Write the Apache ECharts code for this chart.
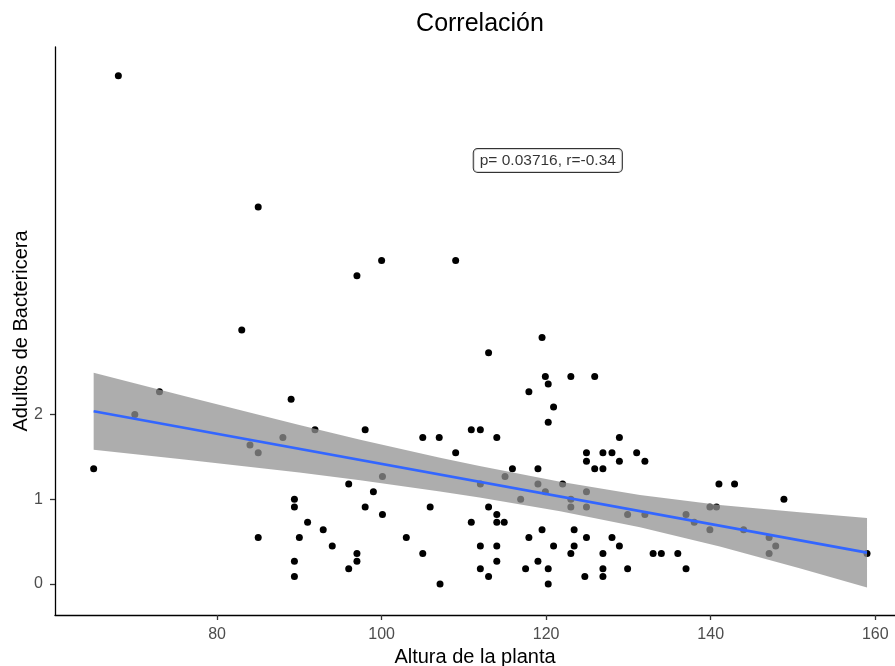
<!DOCTYPE html>
<html>
<head>
<meta charset="utf-8">
<script src="https://cdn.jsdelivr.net/npm/echarts@6/dist/echarts.min.js"></script>
<style>
  html, body { margin: 0; padding: 0; background: #fff; }
  #chart { width: 895px; height: 666px; }
</style>
</head>
<body>
<div id="chart"></div>
<script>
// Plant height (x) and Bactericera adults (y), one entry per plant
const alturaPlanta = [
  68, 85, 97, 100, 109, 83, 119.5, 113, 119.9, 120.25,
  123, 125.9, 117.9, 120.9, 120.25, 73, 70, 89, 65, 84,
  85, 88, 89.4, 89.4, 85, 90, 89.4, 89.4, 91.9, 98,
  105, 107, 110.9, 112, 114, 109, 115.9, 119, 122, 124.9,
  124.9, 125.9, 100.1, 112, 115, 119, 119.9, 116.9, 123, 123,
  124.9, 124.9, 96, 99, 98, 100.1, 91, 92.9, 94, 96,
  97, 97, 103, 105, 105.9, 107.1, 110.9, 113, 114, 114,
  114.9, 112, 114, 112, 113, 114, 117.9, 119.5, 117.5, 119,
  120.25, 120.25, 120.9, 123.4, 123.4, 123, 124.9, 124.7, 128.9, 126.9,
  128, 128.9, 131, 132, 126.9, 129.9, 132, 137, 138, 126.9,
  128, 128.9, 126.9, 126.9, 129.9, 133, 134, 136, 137, 141,
  142.9, 148.9, 139.9, 140.7, 139.9, 144, 147.1, 147.9, 147.1, 159
];
const adultos = [
  6.0, 4.45, 3.64, 3.82, 3.82, 3.0, 2.91, 2.73, 2.45, 2.36,
  2.45, 2.45, 2.27, 2.09, 1.91, 2.27, 2.0, 2.18, 1.36, 1.64,
  1.55, 1.73, 1.0, 0.91, 0.55, 0.55, 0.27, 0.09, 1.82, 1.82,
  1.73, 1.73, 1.82, 1.82, 1.73, 1.55, 1.36, 1.36, 1.18, 1.55,
  1.45, 1.36, 1.27, 1.18, 1.27, 1.18, 1.09, 1.0, 1.0, 0.91,
  1.09, 0.91, 1.18, 1.09, 0.91, 0.82, 0.73, 0.64, 0.45, 0.18,
  0.36, 0.27, 0.55, 0.36, 0.91, 0.0, 0.73, 0.91, 0.82, 0.73,
  0.73, 0.45, 0.45, 0.18, 0.09, 0.27, 0.55, 0.64, 0.18, 0.27,
  0.18, 0.0, 0.45, 0.64, 0.45, 0.36, 0.55, 0.09, 1.73, 1.55,
  1.55, 1.45, 1.55, 1.45, 1.36, 0.82, 0.82, 0.82, 0.73, 0.36,
  0.55, 0.45, 0.18, 0.09, 0.18, 0.36, 0.36, 0.36, 0.18, 1.18,
  1.18, 1.0, 0.91, 0.91, 0.64, 0.64, 0.55, 0.45, 0.36, 0.36
];

// Fitted linear trend (end points) and its confidence band
const ajusteX = [65, 159];
const ajusteY = [2.04, 0.37];
const bandaX = [65, 76, 90, 97.4, 107.1, 111.9, 121.7, 131.4, 141.1, 150.8, 159];
const bandaSup = [2.495, 2.22, 1.876, 1.704, 1.492, 1.392, 1.208, 1.05, 0.933, 0.846, 0.78];
const bandaInf = [1.585, 1.47, 1.316, 1.224, 1.092, 1.022, 0.858, 0.67, 0.443, 0.186, -0.04];

// Axis ticks
const ticksX = [80, 100, 120, 140, 160];
const ticksY = [0, 1, 2];

// Correlation annotation
const anotacionTexto = 'p= 0.03716, r=-0.34';
const anotacionPos = [120.2, 5.0];

const FONT = 'Liberation Sans, Arial, sans-serif';

const chart = echarts.init(document.getElementById('chart'), null, { renderer: 'canvas' });

chart.setOption({
  animation: false,
  backgroundColor: '#ffffff',
  title: {
    text: 'Correlación',
    left: 475,
    top: 7,
    textAlign: 'center',
    textStyle: { fontFamily: FONT, fontSize: 25, fontWeight: 'normal', color: '#000' }
  },
  grid: { left: 55, right: 0, top: 47, bottom: 51, containLabel: false, outerBoundsMode: 'none' },
  xAxis: {
    type: 'value',
    min: 60.3,
    max: 162.4,
    name: 'Altura de la planta',
    nameLocation: 'middle',
    nameGap: 32,
    nameMoveOverlap: false,
    nameTextStyle: { fontFamily: FONT, fontSize: 20, color: '#000' },
    axisLine: { show: true, onZero: false, lineStyle: { color: '#000', width: 1.3 } },
    axisTick: { show: true, customValues: ticksX, length: 5, lineStyle: { color: '#333', width: 1.3 } },
    axisLabel: { customValues: ticksX, margin: 12, fontFamily: FONT, fontSize: 16, color: '#4d4d4d' },
    splitLine: { show: false }
  },
  yAxis: {
    type: 'value',
    min: -0.366,
    max: 6.34,
    name: 'Adultos de Bactericera',
    nameLocation: 'middle',
    nameGap: 23.5,
    nameMoveOverlap: false,
    nameTextStyle: { fontFamily: FONT, fontSize: 20, color: '#000' },
    axisLine: { show: true, onZero: false, lineStyle: { color: '#000', width: 1.3 } },
    axisTick: { show: true, customValues: ticksY, length: 5, lineStyle: { color: '#333', width: 1.3 } },
    axisLabel: { customValues: ticksY, margin: 12, fontFamily: FONT, fontSize: 16, color: '#4d4d4d' },
    splitLine: { show: false }
  },
  series: [
    {
      name: 'plantas',
      type: 'scatter',
      symbol: 'circle',
      symbolSize: 7,
      itemStyle: { color: '#000', opacity: 1 },
      data: alturaPlanta.map((x, i) => [x, adultos[i]]),
      z: 2
    },
    {
      name: 'intervalo',
      type: 'custom',
      silent: true,
      z: 3,
      data: bandaX.map((x, i) => [x, bandaSup[i]]),
      renderItem: function (params, api) {
        if (params.dataIndex !== 0) return null;
        const pts = [];
        for (let i = 0; i < bandaX.length; i++) pts.push(api.coord([bandaX[i], bandaSup[i]]));
        for (let i = bandaX.length - 1; i >= 0; i--) pts.push(api.coord([bandaX[i], bandaInf[i]]));
        return {
          type: 'polygon',
          shape: { points: pts },
          style: { fill: '#929292', opacity: 0.75 }
        };
      }
    },
    {
      name: 'ajuste',
      type: 'line',
      showSymbol: false,
      z: 4,
      lineStyle: { color: '#3366FF', width: 2.7 },
      data: ajusteX.map((x, i) => [x, ajusteY[i]])
    },
    {
      name: 'anotacion',
      type: 'scatter',
      symbolSize: 0,
      z: 5,
      data: [anotacionPos],
      label: {
        show: true,
        position: 'inside',
        formatter: anotacionTexto,
        fontFamily: FONT,
        fontSize: 15.5,
        color: '#000',
        backgroundColor: '#fff',
        borderColor: '#000',
        borderWidth: 1,
        borderRadius: 4,
        padding: [4, 6, 3, 6]
      }
    }
  ]
});
</script>
</body>
</html>
